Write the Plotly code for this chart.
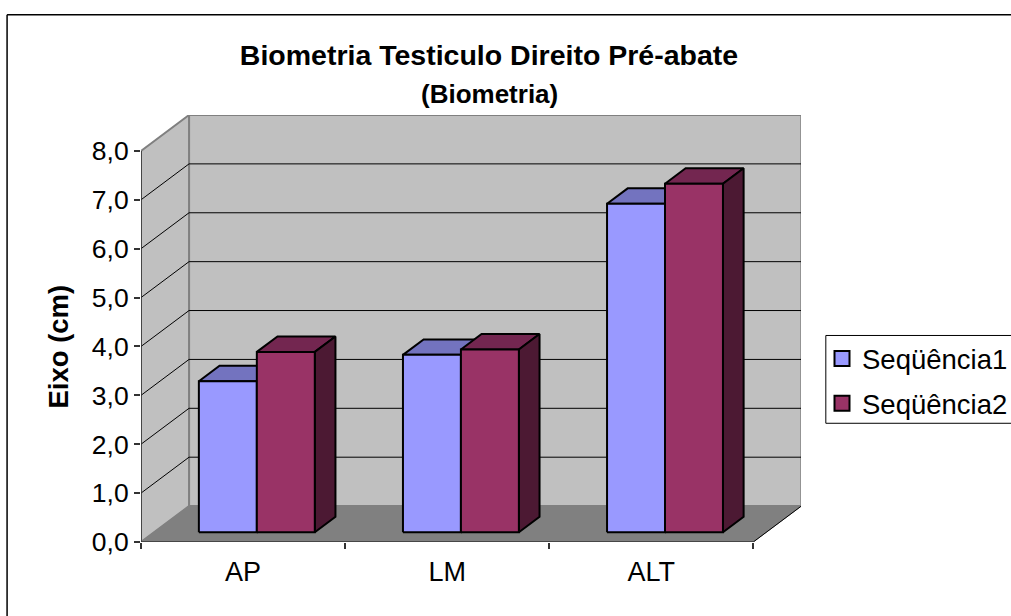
import plotly.graph_objects as go

# ---- data ----
categories = ["AP", "LM", "ALT"]
serie1 = [3.09, 3.63, 6.72]
serie2 = [3.69, 3.74, 7.13]
series_names = ["Seqüência1", "Seqüência2"]
y_ticks = [0, 1, 2, 3, 4, 5, 6, 7, 8]
y_labels = ["0,0", "1,0", "2,0", "3,0", "4,0", "5,0", "6,0", "7,0", "8,0"]

# ---- geometry of the pseudo-3D box ----
W, H = 1011, 616
L, R, T, B = 141.3, 800.7, 114.5, 542.5
PX_CAT, PX_VAL = 203.9, 49.0
DX = 48.0 / PX_CAT      # category units per unit of depth
DY = 36.0 / PX_VAL      # value units per unit of depth
GAP, BAR_W = 0.22, 0.284
Z0, Z1 = 0.27, 0.70
NCAT, YMAX = len(categories), max(y_ticks)

def P(x, v, z=0.0):
    return x + z * DX, v + z * DY

def poly(points):
    xs, ys = zip(*[P(*p) for p in points])
    return list(xs) + [xs[0]], list(ys) + [ys[0]]

fig = go.Figure()

def add_poly(polys, fill, line, width):
    xs, ys = [], []
    for p in polys:
        a, b = poly(p)
        xs += a + [None]
        ys += b + [None]
    fig.add_trace(go.Scatter(x=xs, y=ys, mode="lines", fill="toself", fillcolor=fill,
                             line=dict(color=line, width=width), hoverinfo="skip",
                             showlegend=False, cliponaxis=False))

def add_line(p0, p1, color, width):
    a, b = P(*p0), P(*p1)
    fig.add_trace(go.Scatter(x=[a[0], b[0]], y=[a[1], b[1]], mode="lines",
                             line=dict(color=color, width=width), hoverinfo="skip",
                             showlegend=False, cliponaxis=False))

WALL, FLOOR, EDGE = "#C0C0C0", "#808080", "#808080"
# back wall, side wall, floor
add_poly([[(0, 0, 1), (NCAT, 0, 1), (NCAT, YMAX, 1), (0, YMAX, 1)]], WALL, EDGE, 2)
add_poly([[(0, 0, 0), (0, 0, 1), (0, YMAX, 1), (0, YMAX, 0)]], WALL, EDGE, 2)
add_poly([[(0, 0, 0), (NCAT, 0, 0), (NCAT, 0, 1), (0, 0, 1)]], FLOOR, FLOOR, 1)
# grid
for v in y_ticks[1:-1]:
    add_line((0, v, 0), (0, v, 1), "#000000", 1)
    add_line((0, v, 1), (NCAT, v, 1), "#000000", 1)
# frame
add_line((NCAT, 0, 0), (NCAT, 0, 1), "#000000", 1)
add_line((0, 0, 0), (0, YMAX, 0), "#333333", 1.5)
add_line((0, 0, 0), (NCAT, 0, 0), "#333333", 1.5)

# bars
styles = [
    dict(front="#9999FF", top="#7373BF", side="#4C4C7F"),
    dict(front="#993366", top="#732650", side="#4C1933"),
]
for s, vals in enumerate([serie1, serie2]):
    tops, sides, fronts = [], [], []
    for i, v in enumerate(vals):
        x0 = i + GAP + s * BAR_W
        x1 = x0 + BAR_W
        tops.append([(x0, v, Z0), (x1, v, Z0), (x1, v, Z1), (x0, v, Z1)])
        sides.append([(x1, 0, Z0), (x1, 0, Z1), (x1, v, Z1), (x1, v, Z0)])
        fronts.append([(x0, 0, Z0), (x1, 0, Z0), (x1, v, Z0), (x0, v, Z0)])
    add_poly(tops, styles[s]["top"], "#000000", 2)
    add_poly(sides, styles[s]["side"], "#000000", 2)
    add_poly(fronts, styles[s]["front"], "#000000", 2)

# legend entries
for s, name in enumerate(series_names):
    fig.add_trace(go.Scatter(x=[None], y=[None], mode="markers", name=name, legendgroup=name,
                             marker=dict(symbol="square", size=15, color=styles[s]["front"],
                                         line=dict(color="#000000", width=2))))

FONT = "Liberation Sans, Arial, sans-serif"
def fx(px): return (px - L) / (R - L)
def fy(px): return (B - px) / (B - T)

fig.update_layout(
    width=W, height=H, paper_bgcolor="#FFFFFF", plot_bgcolor="rgba(0,0,0,0)",
    margin=dict(l=L, r=W - R, t=T, b=H - B, pad=0, autoexpand=False),
    font=dict(family=FONT, color="#000000", size=26),
    showlegend=True,
    title=dict(text="<b>Biometria Testiculo Direito Pré-abate</b>", font=dict(size=28.5),
               x=489 / W, xanchor="center", y=1 - 55 / H, yanchor="middle"),
    legend=dict(xref="container", yref="container", x=822 / W, y=1 - 334 / H,
                xanchor="left", yanchor="top", borderwidth=0,
                bgcolor="rgba(0,0,0,0)", tracegroupgap=6, font=dict(size=27.5), itemclick=False),
    xaxis=dict(range=[0, (R - L) / PX_CAT], showgrid=False, zeroline=False, showline=False,
               tickmode="array", tickvals=[i + 0.5 for i in range(NCAT)], ticktext=categories,
               ticks="outside", ticklen=6, tickcolor="rgba(0,0,0,0)",
               minor=dict(tickmode="array", tickvals=list(range(NCAT + 1)), ticks="outside",
                          ticklen=6, tickcolor="#333333", tickwidth=1.5),
               tickfont=dict(size=27)),
    yaxis=dict(range=[0, (B - T) / PX_VAL], showgrid=False, zeroline=False, showline=False,
               tickmode="array", tickvals=y_ticks, ticktext=y_labels,
               ticks="outside", ticklen=6, tickcolor="#333333", tickwidth=1.5,
               tickfont=dict(size=26.5)),
    annotations=[
        dict(text="<b>(Biometria)</b>", xref="paper", yref="paper", x=fx(489), y=fy(93),
             xanchor="center", yanchor="middle", showarrow=False, font=dict(size=26)),
        dict(text="<b>Eixo (cm)</b>", xref="paper", yref="paper", x=fx(59), y=fy(347),
             xanchor="center", yanchor="middle", textangle=-90, showarrow=False, font=dict(size=27.5)),
    ],
    shapes=[
        dict(type="line", xref="paper", yref="paper", x0=fx(7.5), x1=fx(1030), y0=fy(14), y1=fy(14),
             line=dict(color="#000000", width=1.5)),
        dict(type="line", xref="paper", yref="paper", x0=fx(7.5), x1=fx(7.5), y0=fy(14), y1=fy(640),
             line=dict(color="#000000", width=1.5)),
        dict(type="rect", xref="paper", yref="paper", x0=fx(825.5), x1=fx(1030), y0=fy(335.5), y1=fy(423.5),
             line=dict(color="#000000", width=1), fillcolor="#FFFFFF", layer="below"),
    ],
)

fig.write_html("out.html", config={"displayModeBar": False},
               post_script="document.body.style.margin='0';document.body.style.overflow='hidden';")
